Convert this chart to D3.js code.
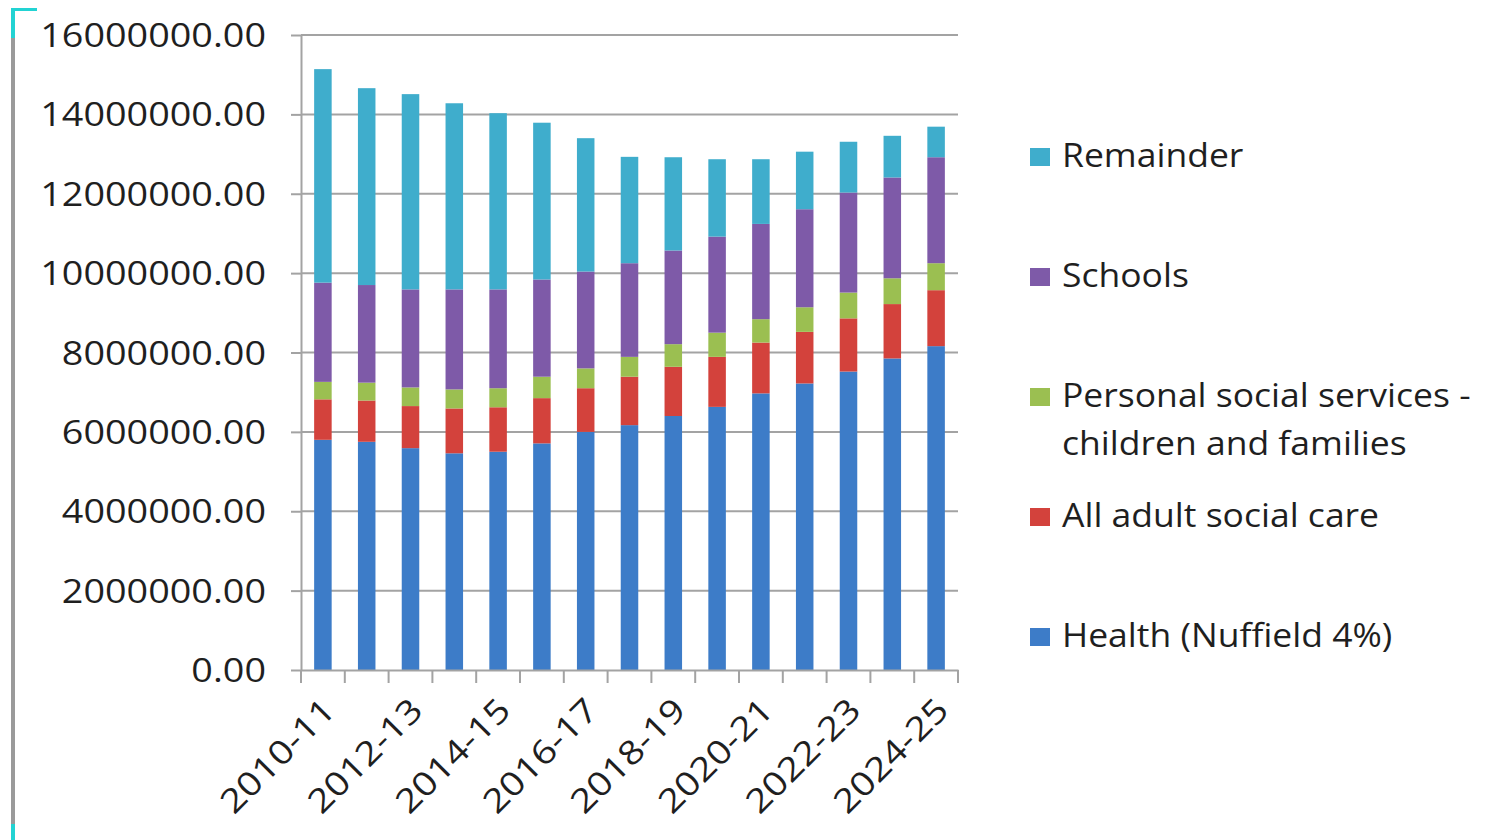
<!DOCTYPE html>
<html><head><meta charset="utf-8">
<script src="https://cdn.jsdelivr.net/npm/d3@7"></script>
<style>body{margin:0;background:#fff} svg{display:block}</style>
</head><body>
<svg id="chart" width="1488" height="840"></svg>
<script>
// ---------- data ----------
const years = ["2010-11","2011-12","2012-13","2013-14","2014-15","2015-16","2016-17","2017-18","2018-19","2019-20","2020-21","2021-22","2022-23","2023-24","2024-25"];
const seriesNames = ["Health (Nuffield 4%)","All adult social care","Personal social services - children and families","Schools","Remainder"];
const health    = [5800000,5750000,5590000,5460000,5500000,5710000,6000000,6170000,6400000,6630000,6970000,7220000,7520000,7850000,8160000];
const adultCare = [1020000,1040000,1060000,1130000,1120000,1140000,1100000,1220000,1240000,1260000,1280000,1300000,1340000,1370000,1410000];
const childrenServices = [440000,450000,470000,480000,480000,540000,500000,500000,570000,610000,590000,620000,650000,650000,680000];
const schools   = [2500000,2460000,2470000,2520000,2490000,2450000,2440000,2360000,2360000,2420000,2400000,2470000,2520000,2540000,2670000];
const remainder = [5380000,4960000,4920000,4690000,4440000,3950000,3360000,2680000,2350000,1950000,1630000,1450000,1280000,1050000,770000];
const yTicks = [0,2000000,4000000,6000000,8000000,10000000,12000000,14000000,16000000];
const xTickLabels = ["2010-11","2012-13","2014-15","2016-17","2018-19","2020-21","2022-23","2024-25"];

// ---------- styling ----------
const colors = ["#3d7cc8","#d3423c","#9bbf51","#7e5aa8","#3fadcc"];
const FONT = "'Open Sans', 'Liberation Sans', sans-serif";
const SX = 1.18;      // horizontal stretch of the source font
const textColor = "#1f1f1f";
const gridColor = "#a3a3a3";

const svg = d3.select("#chart");
const plotLeft = 301, plotRight = 958, plotTop = 35, plotBottom = 670;

const table = years.map((yr, i) => ({
  year: yr,
  [seriesNames[0]]: health[i],
  [seriesNames[1]]: adultCare[i],
  [seriesNames[2]]: childrenServices[i],
  [seriesNames[3]]: schools[i],
  [seriesNames[4]]: remainder[i]
}));
const stacked = d3.stack().keys(seriesNames)(table);

const x = d3.scaleBand().domain(years).range([plotLeft, plotRight]).paddingInner(0.6).paddingOuter(0.3);
const y = d3.scaleLinear().domain([0, 16000000]).range([plotBottom, plotTop]);

// frame artefacts at left edge
svg.append("rect").attr("x", 11).attr("y", 8).attr("width", 4).attr("height", 832).attr("fill", "#9a9a9a");
svg.append("rect").attr("x", 11).attr("y", 8).attr("width", 4).attr("height", 30).attr("fill", "#22d3d3");
svg.append("rect").attr("x", 11).attr("y", 8).attr("width", 26).attr("height", 3).attr("fill", "#22d3d3");
svg.append("rect").attr("x", 11).attr("y", 824).attr("width", 4).attr("height", 16).attr("fill", "#22d3d3");

// gridlines
svg.append("g").selectAll("line").data(yTicks.filter(d => d > 0)).join("line")
  .attr("x1", plotLeft).attr("x2", plotRight)
  .attr("y1", d => y(d)).attr("y2", d => y(d))
  .attr("stroke", gridColor).attr("stroke-width", 2);

// y axis
const yAxis = svg.append("g").attr("transform", `translate(${plotLeft},0)`)
  .call(d3.axisLeft(y).tickValues(yTicks).tickFormat(d3.format(".2f")).tickSize(10).tickSizeOuter(0));
yAxis.select(".domain").attr("stroke", gridColor).attr("stroke-width", 2);
yAxis.selectAll(".tick line").attr("stroke", gridColor).attr("stroke-width", 2);
yAxis.selectAll(".tick text")
  .attr("x", 0).attr("dy", "0.36em")
  .attr("transform", `translate(-35,0) scale(${SX},1)`)
  .attr("fill", textColor).style("font-family", FONT).style("font-size", "32px");

// bars
svg.append("g").selectAll("g").data(stacked).join("g")
  .attr("fill", (d, i) => colors[i])
  .selectAll("rect").data(d => d).join("rect")
  .attr("x", d => x(d.data.year))
  .attr("width", x.bandwidth())
  .attr("y", d => y(d[1]))
  .attr("height", d => y(d[0]) - y(d[1]));

// x axis
const step = x.step();
const xAxis = svg.append("g").attr("transform", `translate(0,${plotBottom})`)
  .call(d3.axisBottom(x).tickValues([]).tickSizeOuter(0));
xAxis.select(".domain").attr("stroke", gridColor).attr("stroke-width", 2);
const boundaries = years.map(d => x(d) - x.paddingOuter() * step).concat([plotRight]);
xAxis.append("g").selectAll("line").data(boundaries).join("line")
  .attr("x1", d => d).attr("x2", d => d).attr("y1", 0).attr("y2", 13)
  .attr("stroke", gridColor).attr("stroke-width", 2);
xAxis.append("g").selectAll("text").data(xTickLabels).join("text")
  .attr("transform", d => `translate(${x(d) + x.bandwidth() / 2 - 2},${26}) rotate(-45) scale(${SX},1)`)
  .attr("text-anchor", "end").attr("dy", "0.7em")
  .attr("fill", textColor).style("font-family", FONT).style("font-size", "33px")
  .text(d => d);

// legend
const legendOrder = [4, 3, 2, 1, 0];
const legendLines = {2: ["Personal social services -", "children and families"]};
const legend = svg.append("g").attr("transform", "translate(1030,167)");
legendOrder.forEach((si, k) => {
  const b = k * 120;
  legend.append("rect").attr("x", 0).attr("y", b - 19).attr("width", 20).attr("height", 18).attr("fill", colors[si]);
  const lines = legendLines[si] || [seriesNames[si]];
  lines.forEach((t, j) => {
    legend.append("text")
      .attr("transform", `translate(32,${b + j * 48}) scale(1.11,1)`)
      .attr("fill", textColor).style("font-family", FONT).style("font-size", "32px")
      .text(t);
  });
});
</script>
</body></html>
